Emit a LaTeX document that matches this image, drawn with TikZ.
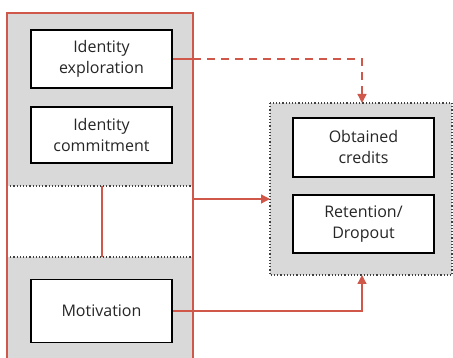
\documentclass[tikz,border=0pt]{standalone}
\usepackage{fontspec}
\setmainfont{Open Sans}
\usetikzlibrary{arrows.meta}
\definecolor{myred}{HTML}{D0584A}
\definecolor{mygray}{HTML}{D9D9D9}
\tikzset{
  box/.style={draw=black, line width=1.6pt, fill=white, minimum width=141pt, align=center, font=\fontsize{16}{21}\selectfont, text=black!85, inner sep=0pt},
  redline/.style={draw=myred, line width=1.3pt},
  redarrow/.style={redline, -{Triangle[length=9pt,width=9pt]}},
  dotline/.style={draw=black!75, line width=1.2pt, dotted}
}
\begin{document}
\begin{tikzpicture}[x=1pt,y=-1pt]
\useasboundingbox (0,0) rectangle (453,358);
% left panel
\fill[mygray] (7,13) rectangle (193,358);
\fill[white] (7,186) rectangle (193,257);
\draw[dotline] (7,186) -- (193,186);
\draw[dotline] (7,257) -- (193,257);
\draw[redline] (7,358) -- (7,13) -- (193,13) -- (193,358);
% right panel
\fill[mygray] (270,103) rectangle (452,275);
\draw[dotline] (270,103) rectangle (452,275);
% boxes
\node[box, minimum height=58pt] (expl) at (101.5,59) {Identity\\exploration};
\node[box, minimum height=56pt] (comm) at (101.5,135) {Identity\\commitment};
\node[box, minimum height=63pt] (moti) at (101.5,311) {Motivation};
\node[box, minimum height=59pt] (cred) at (363.5,147.5) {Obtained\\credits};
\node[box, minimum height=58pt] (ret) at (363.5,224) {Retention/\\Dropout};
\coordinate (ptop) at (362,103);
\coordinate (pbot) at (362,275);
\coordinate (pleft) at (270,199);
\coordinate (bandtop) at (102,186);
\coordinate (bandbot) at (102,257);
\coordinate (border) at (193,199);
\coordinate (exborder) at (193,59);
% connectors
\draw[redline] (expl.east) -- (exborder);
\draw[redarrow, dash pattern=on 8pt off 6pt] (exborder) -| (ptop);
\draw[redline] (bandtop) -- (bandbot);
\draw[redarrow] (border) -- (pleft);
\draw[redarrow] (moti.east) -| (pbot);
\end{tikzpicture}
\end{document}
